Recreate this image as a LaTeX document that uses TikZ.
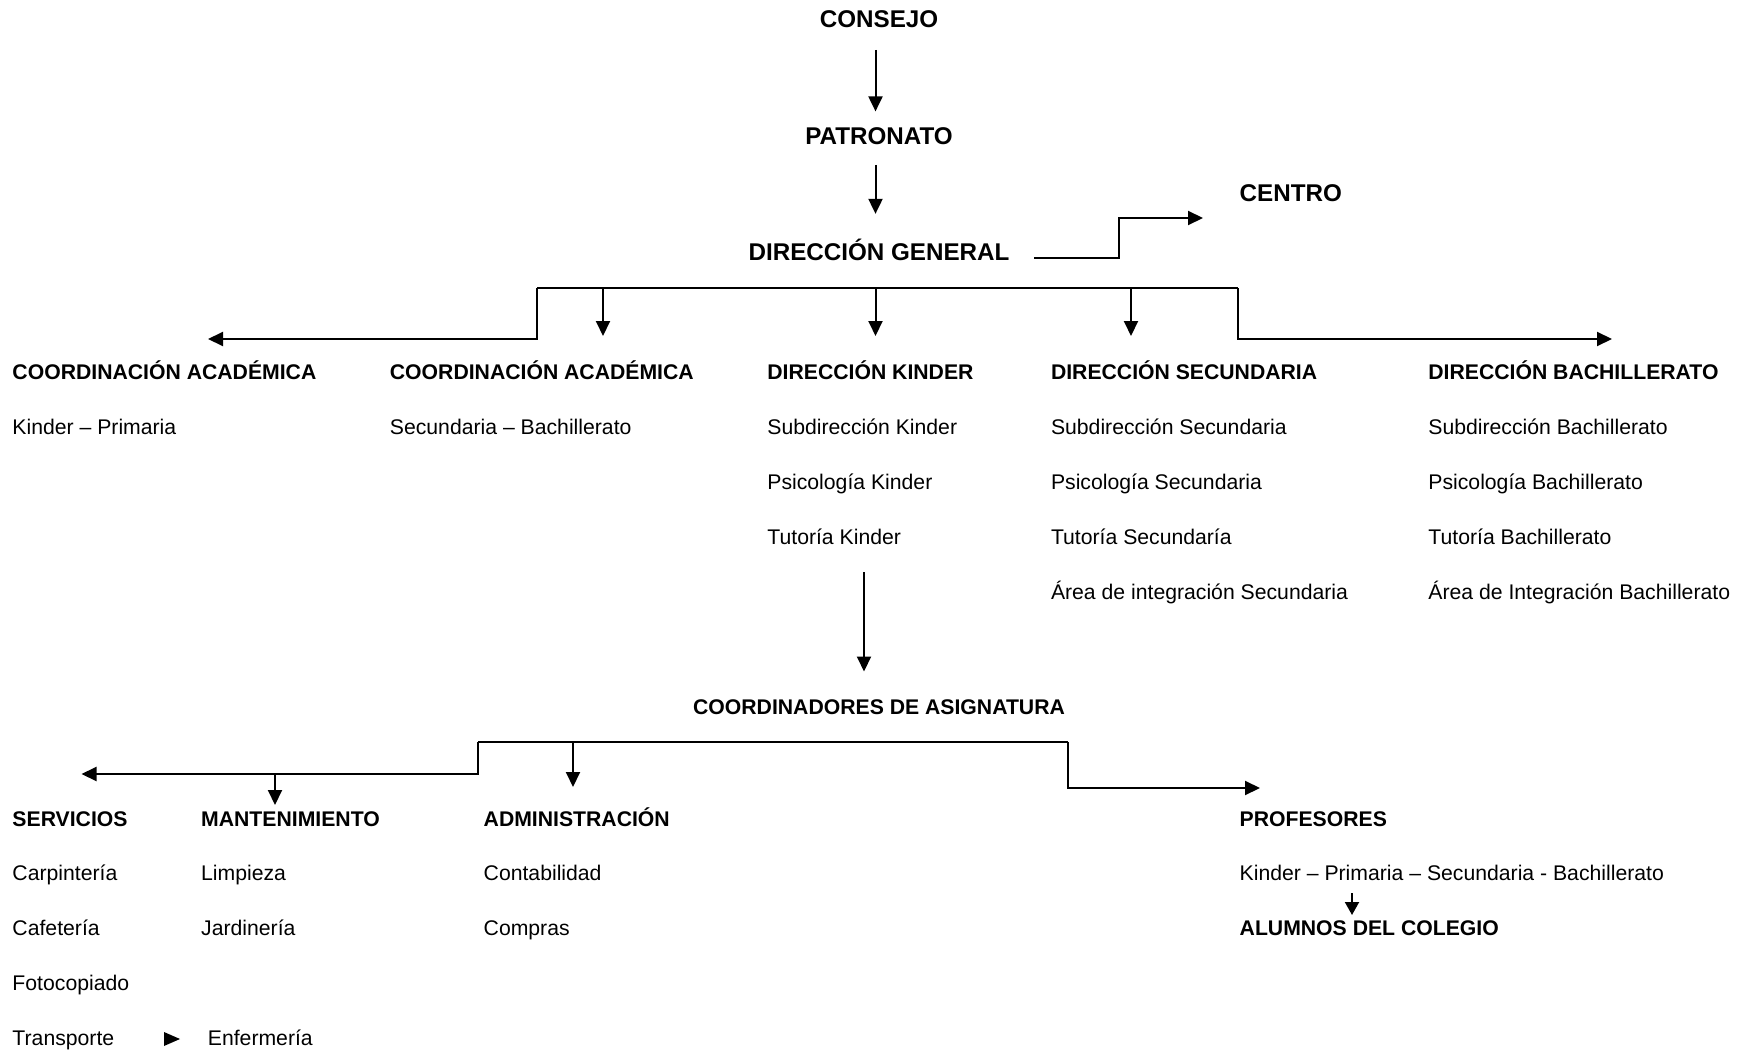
\documentclass[tikz,border=0pt]{standalone}
\usepackage{fontspec}
\setmainfont{Liberation Sans}
\usetikzlibrary{arrows.meta}
\newcommand\fsz{\fontsize{21.2}{25}\selectfont}
\newcommand\fbig{\fontsize{24.2}{28}\selectfont}
\tikzset{
  lbl/.style={anchor=base west, inner sep=0pt, font=\fsz},
  hd/.style={anchor=base west, inner sep=0pt, font=\fsz\bfseries},
  ttl/.style={anchor=base, inner sep=0pt, font=\fsz\bfseries},
  big/.style={anchor=base, inner sep=0pt, font=\fbig\bfseries},
  conn/.style={line width=2pt, -{Triangle[length=15pt,width=14pt]}},
  bus/.style={line width=2pt},
  small/.style={line width=2pt, -{Triangle[length=13pt,width=14pt]}}
}
\begin{document}
\begin{tikzpicture}[x=1pt,y=-1pt]
\useasboundingbox (0,0) rectangle (1751,1051);
% top chain
\node[big] (consejo) at (879,27.5) {CONSEJO};
\node[big] (patronato) at (879,144.5) {PATRONATO};
\node[big] (dg) at (879,260.5) {DIRECCIÓN GENERAL};
\node[big, anchor=base west] (centro) at (1239.5,202) {CENTRO};
\coordinate (ax) at (875.5,0);
\draw[conn] ([yshift=-22pt]consejo.south -| ax) -- ([yshift=16pt]patronato.north -| ax);
\draw[conn] ([yshift=-20pt]patronato.south -| ax) -- ([yshift=25pt]dg.north -| ax);
\coordinate (dgR) at (1034,258);
\coordinate (dgS) at (1119,218);
\coordinate (dgT) at (1203,218);
\draw[conn] (dgR) -- (dgR -| dgS) -- (dgS) -- (dgT);
% row 1
\node[hd] (ca1) at (12.3,379) {COORDINACIÓN ACADÉMICA};
\node[lbl] (ca1a) at (12.3,434) {Kinder – Primaria};
\node[hd] (ca2) at (389.7,379) {COORDINACIÓN ACADÉMICA};
\node[lbl] (ca2a) at (389.7,434) {Secundaria – Bachillerato};
\node[hd] (dk) at (767.2,379) {DIRECCIÓN KINDER};
\node[lbl] (dka) at (767.2,434) {Subdirección Kinder};
\node[lbl] (dkb) at (767.2,489) {Psicología Kinder};
\node[lbl] (dkc) at (767.2,544) {Tutoría Kinder};
\node[hd] (ds) at (1050.8,379) {DIRECCIÓN SECUNDARIA};
\node[lbl] (dsa) at (1050.8,434) {Subdirección Secundaria};
\node[lbl] (dsb) at (1050.8,489) {Psicología Secundaria};
\node[lbl] (dsc) at (1050.8,544) {Tutoría Secundaría};
\node[lbl] (dsd) at (1050.8,599) {Área de integración Secundaria};
\node[hd] (db) at (1428.2,379) {DIRECCIÓN BACHILLERATO};
\node[lbl] (dba) at (1428.2,434) {Subdirección Bachillerato};
\node[lbl] (dbb) at (1428.2,489) {Psicología Bachillerato};
\node[lbl] (dbc) at (1428.2,544) {Tutoría Bachillerato};
\node[lbl] (dbd) at (1428.2,599) {Área de Integración Bachillerato};
% top bus
\coordinate (t1) at (537,288);
\coordinate (t2) at (1238,288);
\coordinate (tL) at (208,339);
\coordinate (tR) at (1612,339);
\draw[bus] (t1) -- (t2);
\draw[conn] (t1) -- (t1 |- tL) -- (tL);
\draw[conn] (t2) -- (t2 |- tR) -- (tR);
\coordinate (d1) at (603,336);
\coordinate (d2) at (875.5,336);
\coordinate (d3) at (1131,336);
\draw[conn] (d1 |- t1) -- (d1);
\draw[conn] (d2 |- t1) -- (d2);
\draw[conn] (d3 |- t1) -- (d3);
% kinder -> coordinadores
\node[ttl] (cda) at (879,714.5) {COORDINADORES DE ASIGNATURA};
\coordinate (kx) at (864,0);
\draw[conn] ([yshift=-28pt]dkc.south -| kx) -- ([yshift=28pt]cda.north -| kx);
% row 2
\node[hd] (serv) at (12.3,826) {SERVICIOS};
\node[lbl] (serva) at (12.3,880) {Carpintería};
\node[lbl] (servb) at (12.3,935) {Cafetería};
\node[lbl] (servc) at (12.3,990) {Fotocopiado};
\node[lbl] (servd) at (12.3,1045) {Transporte};
\node[lbl] (enf) at (207.7,1045) {Enfermería};
\fill (164,1032) -- (180,1039) -- (164,1046) -- cycle;
\node[hd] (mant) at (201,826) {MANTENIMIENTO};
\node[lbl] (manta) at (201,880) {Limpieza};
\node[lbl] (mantb) at (201,935) {Jardinería};
\node[hd] (adm) at (483.5,826) {ADMINISTRACIÓN};
\node[lbl] (adma) at (483.5,880) {Contabilidad};
\node[lbl] (admb) at (483.5,935) {Compras};
\node[hd] (prof) at (1239.5,826) {PROFESORES};
\node[lbl] (profa) at (1239.5,880) {Kinder – Primaria – Secundaria - Bachillerato};
\node[hd] (alum) at (1239.5,935) {ALUMNOS DEL COLEGIO};
\coordinate (sx) at (1352,0);
\draw[small] ([yshift=-13pt]profa.south -| sx) -- ([yshift=5pt]alum.north -| sx);
% lower bus
\coordinate (l1) at (478,742);
\coordinate (l2) at (1068,742);
\coordinate (lL) at (81.5,774);
\coordinate (lR) at (1260,788);
\draw[bus] (l1) -- (l2);
\draw[conn] (l1) -- (l1 |- lL) -- (lL);
\draw[conn] (l2) -- (l2 |- lR) -- (lR);
\coordinate (m1) at (275,805);
\coordinate (m2) at (573,787);
\draw[conn] (m1 |- lL) -- (m1);
\draw[conn] (m2 |- l1) -- (m2);
\end{tikzpicture}
\end{document}
